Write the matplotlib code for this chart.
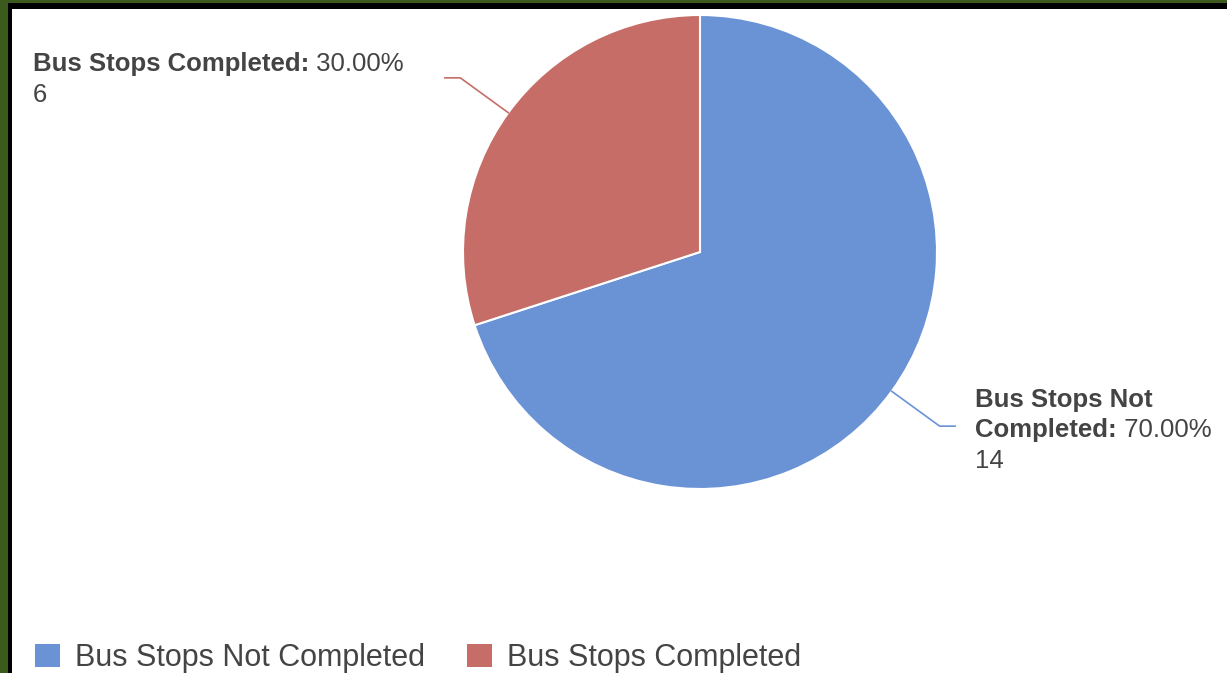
import matplotlib
matplotlib.use("Agg")
import matplotlib.pyplot as plt
import matplotlib.patches as mpatches
import numpy as np

# Chart data
categories = ["Bus Stops Not Completed", "Bus Stops Completed"]
counts = [14, 6]
colors = ["#6a93d6", "#c66d67"]

W, H = 1227, 673
plt.rcParams["font.family"] = ["Liberation Sans", "DejaVu Sans"]
text_color = "#444444"

fig = plt.figure(figsize=(W / 100, H / 100), dpi=100)
fig.patch.set_facecolor("white")


def px(x, y):
    # pixel (from top-left) -> figure fraction
    return x / W, 1 - y / H


# frame: green outer, black inner (top and left only)
green, black = "#3b5a1c", "#000000"
for (x0, y0, w, h, c) in [(0, 0, 8, H, green), (0, 0, W, 3, green),
                          (8, 3, W - 8, 6, black), (8, 3, 4, H - 3, black)]:
    fig.add_artist(mpatches.Rectangle((x0 / W, 1 - (y0 + h) / H), w / W, h / H,
                                      transform=fig.transFigure, color=c, lw=0))

# pie
cx, cy, r = 700, 252, 237
ax = fig.add_axes([(cx - r) / W, 1 - (cy + r) / H, 2 * r / W, 2 * r / H])
wedges, _ = ax.pie(counts, colors=colors, startangle=90, counterclock=False,
                   radius=1, wedgeprops=dict(edgecolor="white", linewidth=1.5))
ax.set_xlim(-1, 1)
ax.set_ylim(-1, 1)
ax.set_aspect("equal")
ax.axis("off")

# leader lines
for wdg, col in zip(wedges, colors):
    mid = np.deg2rad((wdg.theta1 + wdg.theta2) / 2)
    x1, y1 = np.cos(mid), np.sin(mid)
    x2, y2 = 1.25 * x1, 1.25 * y1
    x3 = x2 + np.sign(x1) * 0.065
    ax.plot([x1, x2, x3], [y1, y2, y2], color=col, lw=1.2, clip_on=False)

fs = 18.5
total = sum(counts)
renderer = fig.canvas.get_renderer()


def label(x, y, bold, rest):
    t = fig.text(*px(x, y), bold, fontsize=fs, fontweight="bold",
                 color=text_color, va="baseline", ha="left")
    if rest:
        bb = t.get_window_extent(renderer)
        fig.text(bb.x1 / W, 1 - y / H, " " + rest, fontsize=fs,
                 color=text_color, va="baseline", ha="left")


pct = [100 * c / total for c in counts]
# red (completed) label
label(33, 71, "Bus Stops Completed:", f"{pct[1]:.2f}%")
fig.text(*px(33, 102), str(counts[1]), fontsize=fs, color=text_color, va="baseline")
# blue (not completed) label
label(975, 407, "Bus Stops Not", "")
label(975, 437, "Completed:", f"{pct[0]:.2f}%")
fig.text(*px(975, 468), str(counts[0]), fontsize=fs, color=text_color, va="baseline")

# legend
handles = [mpatches.Patch(facecolor=c, edgecolor="none") for c in colors]
leg = fig.legend(handles, categories, loc="lower left", bbox_to_anchor=px(35, 673),
                 ncol=2, frameon=False, fontsize=22, handlelength=0.82,
                 handleheight=0.82, handletextpad=0.5, columnspacing=1.35,
                 borderpad=0, borderaxespad=0)
for t in leg.get_texts():
    t.set_color(text_color)

fig.savefig("out.png", dpi=100)
